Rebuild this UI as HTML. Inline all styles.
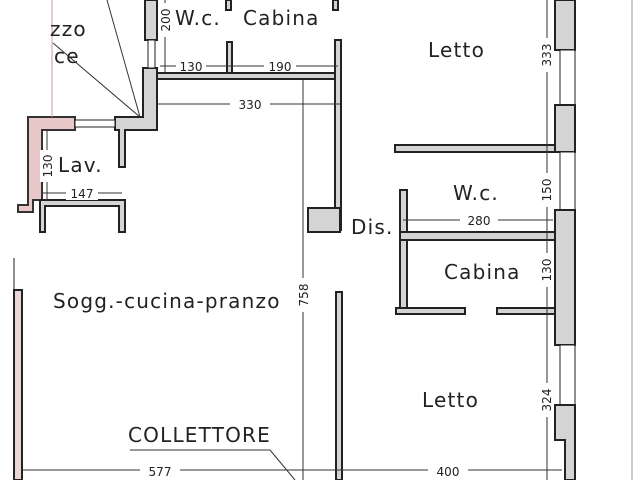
<!DOCTYPE html>
<html><head><meta charset="utf-8"><style>
html,body{margin:0;padding:0;background:#fff;width:640px;height:480px;overflow:hidden}
text{font-family:"DejaVu Sans","Liberation Sans",sans-serif;fill:#222}
</style></head><body>
<svg width="640" height="480" viewBox="0 0 640 480" xmlns="http://www.w3.org/2000/svg">
<g stroke="#222" stroke-width="2" fill="#d4d4d4">
<path d="M28 117 H75 V130 H42 V200 H33 V212 H18 V205 H28 Z" fill="#e8c8c8" stroke="#333"/>
<rect x="14" y="290" width="8" height="190" fill="#ead6d6"/>
<line x1="14" y1="258" x2="14" y2="290" stroke-width="1"/>
<path d="M143 68 H157 V130 H125 V167 H119 V130 H115 V117 H143 Z"/>
<rect x="145" y="0" width="12" height="40"/>
<rect x="148" y="40" width="7" height="28" fill="#fff" stroke-width="1"/>
<rect x="75" y="120" width="40" height="7" fill="#fff" stroke-width="1"/>
<rect x="157" y="73" width="183" height="6"/>
<rect x="227" y="42" width="5" height="31"/>
<rect x="226" y="0" width="5" height="10"/>
<path d="M40 200 H125 V232 H119 V206 H45 V232 H40 Z"/>
<rect x="335" y="40" width="6" height="190"/>
<rect x="333" y="0" width="5" height="10"/>
<rect x="308" y="208" width="32" height="24"/>
<rect x="336" y="292" width="6" height="188"/>
<rect x="395" y="145" width="160" height="7"/>
<rect x="400" y="190" width="7" height="123"/>
<rect x="400" y="232" width="155" height="8"/>
<rect x="396" y="308" width="69" height="6"/>
<rect x="497" y="308" width="58" height="6"/>
<rect x="555" y="0" width="20" height="50"/>
<rect x="560" y="50" width="15" height="55" fill="#fff" stroke-width="1"/>
<rect x="555" y="105" width="20" height="47"/>
<rect x="560" y="152" width="15" height="58" fill="#fff" stroke-width="1"/>
<rect x="555" y="210" width="20" height="135"/>
<rect x="560" y="345" width="15" height="60" fill="#fff" stroke-width="1"/>
<path d="M555 405 H575 V480 H565 V440 H555 Z"/>
</g>
<g stroke="#333" stroke-width="1" fill="none">
<line x1="632" y1="0" x2="632" y2="480" stroke="#999"/>
<line x1="52" y1="0" x2="52" y2="117" stroke="#c99"/>
<line x1="107" y1="0" x2="140" y2="117"/>
<line x1="53" y1="43" x2="140" y2="117"/>
<line x1="160" y1="66" x2="338" y2="66"/>
<line x1="157" y1="104" x2="340" y2="104"/>
<line x1="303" y1="80" x2="303" y2="480"/>
<line x1="47" y1="130" x2="47" y2="200"/>
<line x1="42" y1="193" x2="122" y2="193"/>
<line x1="165" y1="0" x2="165" y2="73"/>
<line x1="547" y1="0" x2="547" y2="480"/>
<line x1="403" y1="220" x2="553" y2="220"/>
<line x1="22" y1="470" x2="562" y2="470"/>
<polyline points="130,450 270,450 295,480"/>
</g>
<g font-size="12">
<rect x="176" y="58" width="30" height="14" fill="#fff"/><text x="191" y="71" text-anchor="middle">130</text>
<rect x="264" y="58" width="32" height="14" fill="#fff"/><text x="280" y="71" text-anchor="middle">190</text>
<rect x="230" y="96" width="40" height="14" fill="#fff"/><text x="250" y="109" text-anchor="middle">330</text>
<rect x="66" y="186" width="32" height="14" fill="#fff"/><text x="82" y="198" text-anchor="middle">147</text>
<rect x="460" y="213" width="38" height="14" fill="#fff"/><text x="479" y="225" text-anchor="middle">280</text>
<rect x="140" y="463" width="40" height="14" fill="#fff"/><text x="160" y="476" text-anchor="middle">577</text>
<rect x="428" y="463" width="40" height="14" fill="#fff"/><text x="448" y="476" text-anchor="middle">400</text>
<g fill="#fff"><rect x="296" y="278" width="14" height="34"/><rect x="540" y="38" width="14" height="34"/><rect x="540" y="173" width="14" height="34"/><rect x="540" y="253" width="14" height="34"/><rect x="540" y="383" width="14" height="34"/><rect x="40" y="150" width="14" height="32"/><rect x="158" y="3" width="14" height="34"/></g>
<text transform="translate(308,295) rotate(-90)" text-anchor="middle">758</text>
<text transform="translate(551,55) rotate(-90)" text-anchor="middle">333</text>
<text transform="translate(551,190) rotate(-90)" text-anchor="middle">150</text>
<text transform="translate(551,270) rotate(-90)" text-anchor="middle">130</text>
<text transform="translate(551,400) rotate(-90)" text-anchor="middle">324</text>
<text transform="translate(52,166) rotate(-90)" text-anchor="middle">130</text>
<text transform="translate(170,20) rotate(-90)" text-anchor="middle">200</text>
</g>
<g font-size="20" letter-spacing="1.2">
<text x="50" y="36">zzo</text><text x="54" y="63">ce</text>
<text x="175" y="25">W.c.</text>
<text x="243" y="25">Cabina</text>
<text x="428" y="57">Letto</text>
<text x="58" y="172">Lav.</text>
<text x="453" y="200">W.c.</text>
<text x="351" y="234">Dis.</text>
<text x="444" y="279">Cabina</text>
<text x="53" y="308">Sogg.-cucina-pranzo</text>
<text x="422" y="407">Letto</text>
<text x="128" y="442">COLLETTORE</text>
</g>
</svg>
</body></html>
